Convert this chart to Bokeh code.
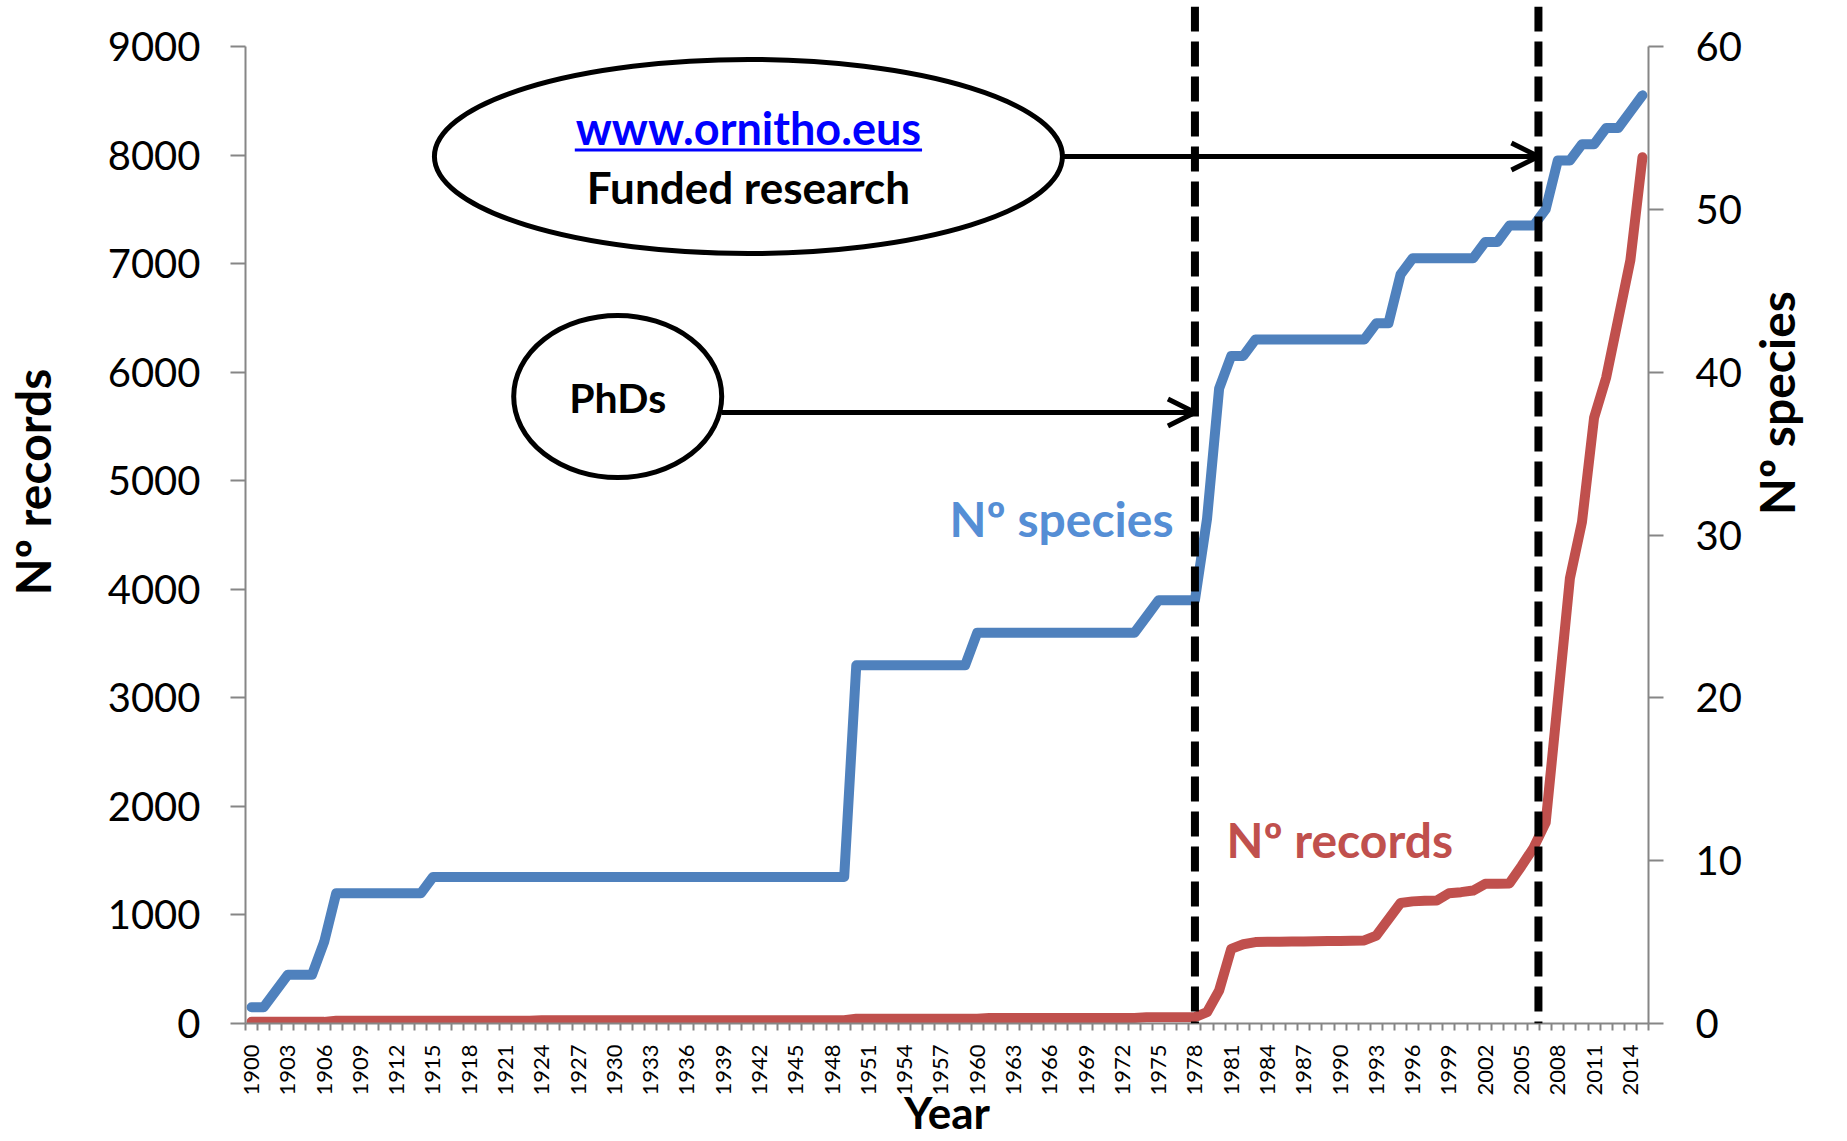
import math
from bokeh.plotting import figure
from bokeh.models import Range1d, LinearAxis, FixedTicker, Label, Arrow, OpenHead, Span
from bokeh.embed import file_html
from bokeh.resources import INLINE

# ---------------- data ----------------
years = list(range(1900, 2016))

species = [
    1, 1, 2, 3, 3, 3, 5, 8, 8, 8,            # 1900s
    8, 8, 8, 8, 8, 9, 9, 9, 9, 9,            # 1910s
    9, 9, 9, 9, 9, 9, 9, 9, 9, 9,            # 1920s
    9, 9, 9, 9, 9, 9, 9, 9, 9, 9,            # 1930s
    9, 9, 9, 9, 9, 9, 9, 9, 9, 9,            # 1940s
    22, 22, 22, 22, 22, 22, 22, 22, 22, 22,  # 1950s
    24, 24, 24, 24, 24, 24, 24, 24, 24, 24,  # 1960s
    24, 24, 24, 24, 25, 26, 26, 26, 26, 31,  # 1970s
    39, 41, 41, 42, 42, 42, 42, 42, 42, 42,  # 1980s
    42, 42, 42, 43, 43, 46, 47, 47, 47, 47,  # 1990s
    47, 47, 48, 48, 49, 49, 49, 50, 53, 53,  # 2000s
    54, 54, 55, 55, 56, 57,                  # 2010s
]

records = [
    15, 15, 15, 15, 15, 15, 15, 25, 25, 25,
    25, 25, 25, 25, 25, 25, 25, 25, 25, 25,
    25, 25, 25, 25, 30, 30, 30, 30, 30, 30,
    30, 30, 30, 30, 30, 30, 30, 30, 30, 30,
    30, 30, 30, 30, 30, 30, 30, 30, 30, 30,
    43, 43, 43, 43, 43, 43, 43, 43, 43, 43,
    43, 50, 50, 50, 50, 50, 50, 50, 50, 50,
    50, 50, 50, 50, 58, 58, 58, 58, 58, 104,
    304, 688, 730, 750, 752, 754, 755, 756, 758, 760,
    760, 762, 765, 810, 960, 1110, 1125, 1130, 1133, 1200,
    1210, 1225, 1287, 1287, 1290, 1450, 1620, 1850, 2970, 4100,
    4620, 5580, 5950, 6490, 7030, 7980,
]

year_labels = list(range(1900, 2015, 3))
record_ticks = [0, 1000, 2000, 3000, 4000, 5000, 6000, 7000, 8000, 9000]
species_ticks = [0, 10, 20, 30, 40, 50, 60]
event_years = [1978, 2006.4]

# ---------------- layout ----------------
W, H = 1847, 1141
FL, FR, FT, FB = 242, 1648, 46, 1023   # axis box in page pixels
TOP = 6                                 # frame top (dashed lines reach it)

X_START, X_END = years[0] - 0.5, years[-1] + 0.5
Y_MAX = record_ticks[-1]
S_MAX = species_ticks[-1]
EXT = (FB - TOP) / (FB - FT)


def dx(px):
    return X_START + (px - FL) * (X_END - X_START) / (FR - FL)


def dy(py):
    return (FB - py) * Y_MAX / (FB - FT)


FONT = "Lato"
GREY = "#868686"
BLUE = "#4F81BD"
RED = "#C0504D"

p = figure(width=W, height=H, output_backend="svg", toolbar_location=None,
           x_range=Range1d(X_START, X_END), y_range=Range1d(0, Y_MAX * EXT),
           x_axis_type=None, y_axis_type=None,
           min_border_left=FL, min_border_right=W - FR,
           min_border_top=TOP, min_border_bottom=H - FB)
p.outline_line_color = None
p.xgrid.visible = False
p.ygrid.visible = False
p.background_fill_color = "white"
p.border_fill_color = "white"
p.extra_y_ranges = {"species": Range1d(0, S_MAX * EXT)}

# bottom axis
minor = [y - 0.5 for y in years] + [years[-1] + 0.5]
xa = LinearAxis(ticker=FixedTicker(ticks=year_labels, minor_ticks=minor))
xa.major_label_overrides = {y: str(y) for y in year_labels}
xa.major_label_orientation = math.pi / 2
xa.major_label_text_font = FONT
xa.major_label_text_font_size = "22px"
xa.major_label_text_color = "black"
xa.major_label_standoff = 14
xa.major_tick_line_color = None
xa.major_tick_out = 0
xa.major_tick_in = 0
xa.minor_tick_line_color = GREY
xa.minor_tick_line_width = 2
xa.minor_tick_out = 7
xa.minor_tick_in = 0
xa.axis_line_color = GREY
xa.axis_line_width = 2
xa.axis_label = "Year"
xa.axis_label_text_font = FONT
xa.axis_label_text_font_style = "bold"
xa.axis_label_text_font_size = "44px"
xa.axis_label_text_color = "black"
xa.axis_label_standoff = -13
p.add_layout(xa, "below")

# left axis
ya = LinearAxis(ticker=FixedTicker(ticks=record_ticks, minor_ticks=[]), bounds=(0, Y_MAX))
ya.major_label_text_font = FONT
ya.major_label_text_font_size = "40px"
ya.major_label_text_color = "black"
ya.major_label_standoff = 30
ya.major_tick_out = 15
ya.major_tick_in = 0
ya.major_tick_line_color = GREY
ya.major_tick_line_width = 2
ya.minor_tick_line_color = None
ya.axis_line_color = GREY
ya.axis_line_width = 2
# leading spaces lift the title a little above the frame centre, as in the reference
ya.axis_label = "\u2003\u2002\u2009Nº records"
ya.axis_label_text_font = FONT
ya.axis_label_text_font_style = "bold"
ya.axis_label_text_font_size = "48px"
ya.axis_label_text_color = "black"
ya.axis_label_standoff = 44
p.add_layout(ya, "left")

# right axis
ra = LinearAxis(y_range_name="species", ticker=FixedTicker(ticks=species_ticks, minor_ticks=[]),
                bounds=(0, S_MAX))
ra.major_label_text_font = FONT
ra.major_label_text_font_size = "40px"
ra.major_label_text_color = "black"
ra.major_label_standoff = 32
ra.major_tick_out = 15
ra.major_tick_in = 0
ra.major_tick_line_color = GREY
ra.major_tick_line_width = 2
ra.minor_tick_line_color = None
ra.axis_line_color = GREY
ra.axis_line_width = 2
ra.axis_label = "Nº species"
ra.axis_label_text_font = FONT
ra.axis_label_text_font_style = "bold"
ra.axis_label_text_font_size = "48px"
ra.axis_label_text_color = "black"
ra.axis_label_standoff = 32
try:
    ra.axis_label_orientation = math.pi / 2
except Exception:
    pass
p.add_layout(ra, "right")

# series
p.line(years, records, line_color=RED, line_width=10, line_join="round", line_cap="round")
p.line(years, species, y_range_name="species", line_color=BLUE, line_width=10,
       line_join="round", line_cap="round")

# callout shapes
p.ellipse(x=[dx(746)], y=[dy(156)], width=628, height=194,
          width_units="screen", height_units="screen",
          fill_color="white", line_color="black", line_width=5)
p.ellipse(x=[dx(615)], y=[dy(396)], width=208, height=162,
          width_units="screen", height_units="screen",
          fill_color="white", line_color="black", line_width=5)

# dashed event lines
for ey in event_years:
    p.add_layout(Span(location=ey, dimension="height", line_color="black",
                      line_width=8, line_dash="25 10"))

# arrows
p.add_layout(Arrow(end=OpenHead(size=27, line_width=5, line_color="black"),
                   x_start=dx(1060), y_start=dy(156), x_end=event_years[1], y_end=dy(156),
                   line_color="black", line_width=5))
p.add_layout(Arrow(end=OpenHead(size=27, line_width=5, line_color="black"),
                   x_start=dx(719), y_start=dy(412), x_end=event_years[0], y_end=dy(412),
                   line_color="black", line_width=5))

# underline for link text
p.add_layout(Arrow(end=None, x_start=dx(572), y_start=dy(149.5), x_end=dx(920), y_end=dy(149.5),
                   line_color="#0000FF", line_width=3))

BASE_SHIFT = 0.36  # em, renderer places the alphabetic baseline this far below the anchor


def lab(text, px, py, size, color="black", align="center"):
    p.add_layout(Label(x=dx(px), y=dy(py - BASE_SHIFT * size), text=text, text_font=FONT,
                       text_font_style="bold", text_font_size=f"{size}px", text_color=color,
                       text_align=align, text_baseline="alphabetic"))


lab("www.ornitho.eus", 746, 143.5, 45, color="#0000FF")
lab("Funded research", 746, 202, 44)
lab("PhDs", 615, 412, 41)
lab("Nº species", 1172, 535, 48, color="#558ED5", align="right")
lab("Nº records", 1225, 856, 48, color=RED, align="left")

open("out.html", "w").write(file_html(p, INLINE))
